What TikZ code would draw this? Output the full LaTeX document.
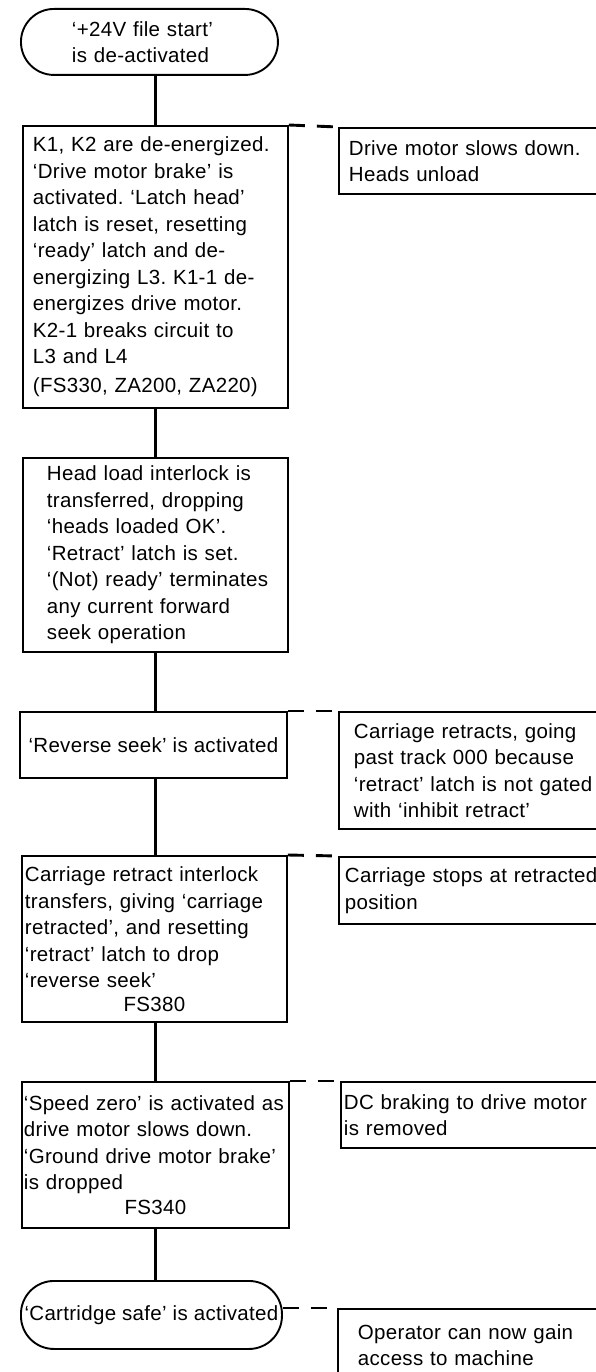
\documentclass[tikz,border=0pt]{standalone}
\usepackage{fontspec}
\setmainfont{Liberation Sans}[LetterSpace=1.5]
\hyphenpenalty=10000
\exhyphenpenalty=10000
\frenchspacing
\begin{document}
\begin{tikzpicture}[x=1pt,y=-1pt,
  txt/.style={font=\fontsize{20.5}{26.5}\selectfont},
  box/.style={txt, draw, line width=1.9pt, rectangle, anchor=north west, inner ysep=0pt, align=left},
  term/.style={box, rounded corners=33pt},
  flow/.style={line width=3.6pt},
  side/.style={line width=2.9pt, dash pattern=on 16pt off 12pt},
]
\clip (0,0) rectangle (596,1372);
% left column
\node[term, minimum width=257pt, minimum height=66pt, text width=155pt, inner xsep=0pt] (T1) at (20,8)
  {‘+24V file start’\\is de-activated};
\node[box, minimum width=265pt, minimum height=282pt, inner xsep=10pt, text width=245pt] (B1) at (22,125)
  {K1, K2 are de-energized.\\‘Drive motor brake’ is\\activated. ‘Latch head’\\latch is reset, resetting\\‘ready’ latch and de-\\energizing L3. K1-1 de-\\energizes drive motor.\\K2-1 breaks circuit to\\L3 and L4\\[2.5pt](FS330, ZA200, ZA220)};
\node[box, minimum width=265pt, minimum height=194pt, inner xsep=16pt, text width=233pt] (B2) at (22,457)
  {\leftskip=8pt Head load interlock is\\transferred, dropping\\‘heads loaded OK’.\\‘Retract’ latch is set.\\‘(Not) ready’ terminates\\any current forward\\seek operation\par};
\node[box, minimum width=267pt, minimum height=66pt, inner xsep=0pt] (B3) at (19,711)
  {‘Reverse seek’ is activated};
\node[box, minimum width=265pt, minimum height=166pt, inner xsep=3pt, text width=259pt] (B4) at (21,855)
  {Carriage retract interlock\\transfers, giving ‘carriage\\retracted’, and resetting\\‘retract’ latch to drop\\‘reverse seek’\\[-3pt]\makebox[\hsize]{FS380}};
\node[box, minimum width=267pt, minimum height=146pt, inner xsep=2pt, text width=263pt] (B5) at (21,1081)
  {‘Speed zero’ is activated as\\drive motor slows down.\\‘Ground drive motor brake’\\is dropped\\[-2pt]\makebox[\hsize]{FS340}};
\node[term, minimum width=261pt, minimum height=68pt, inner xsep=0pt] (T2) at (20,1280)
  {\raisebox{4pt}{‘Cartridge safe’ is activated}};
% right column
\node[box, minimum width=300pt, minimum height=66pt, inner xsep=10pt, text width=280pt] (R1) at (338,127)
  {Drive motor slows down.\\Heads unload};
\node[box, minimum width=300pt, minimum height=117pt, inner xsep=15pt, text width=270pt] (R3) at (338,711)
  {Carriage retracts, going\\past track 000 because\\‘retract’ latch is not gated\\with ‘inhibit retract’};
\node[box, minimum width=300pt, minimum height=67pt, inner xsep=6pt, text width=288pt] (R4) at (338,856)
  {Carriage stops at retracted\\position};
\node[box, minimum width=300pt, minimum height=66pt, inner xsep=3pt, text width=294pt] (R5) at (340,1081)
  {DC braking to drive motor\\is removed};
\node[box, minimum width=300pt, minimum height=72pt, inner xsep=20pt, text width=260pt] (R6) at (337,1308)
  {Operator can now gain\\access to machine};
% flow connectors
\draw[flow] (B1.north |- T1.south) -- (B1.north);
\draw[flow] (B1.south) -- (B2.north);
\draw[flow] (B2.south) -- (B2.south |- B3.north);
\draw[flow] (B2.south |- B3.south) -- (B2.south |- B4.north);
\draw[flow] (B2.south |- B4.south) -- (B2.south |- B5.north);
\draw[flow] (B2.south |- B5.south) -- (B2.south |- T2.north);
% side connectors
\draw[side] (B1.north east) -- (R1.north west);
\draw[side] (B3.north east) -- (R3.north west);
\draw[side] (B4.north east) -- (R4.north west);
\draw[side] (B5.north east) -- (R5.north west);
\draw[side] (T2.east |- R6.north west) -- (R6.north west);
\end{tikzpicture}
\end{document}
